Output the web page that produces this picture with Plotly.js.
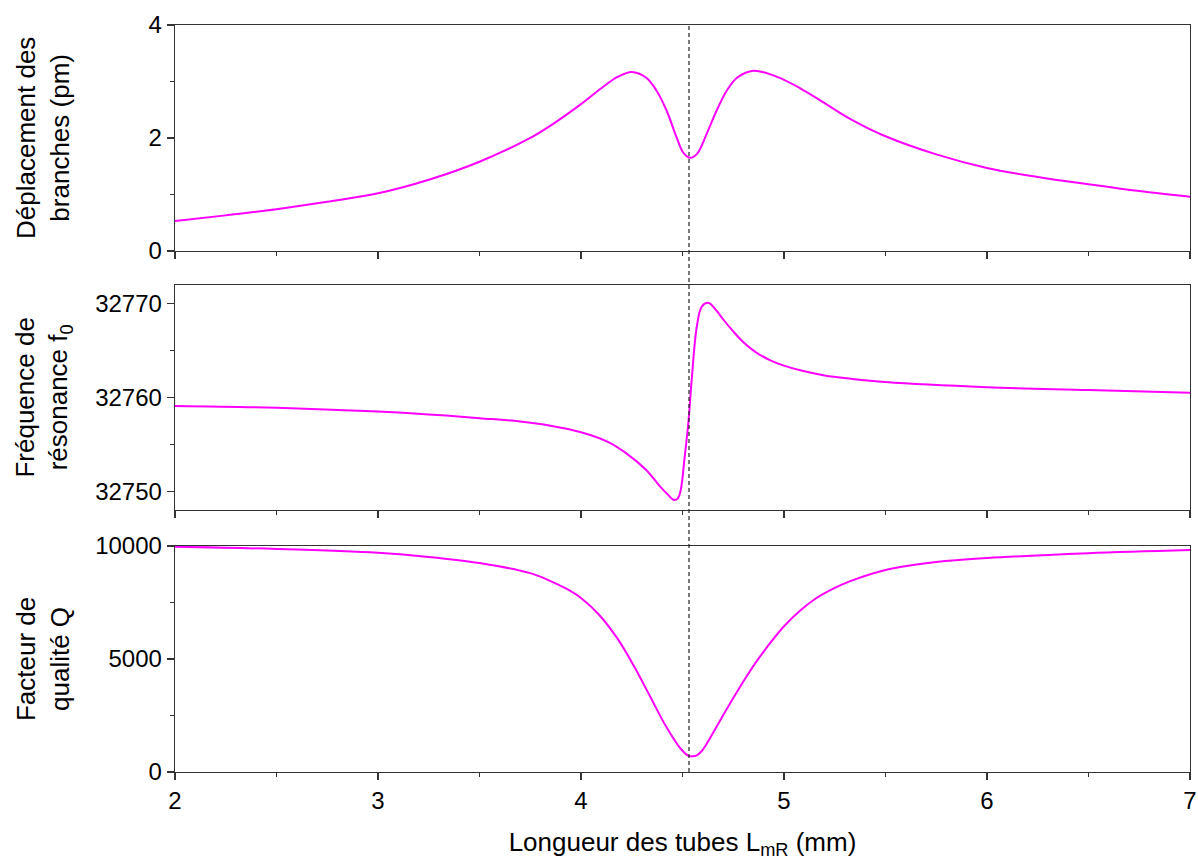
<!DOCTYPE html>
<html>
<head>
<meta charset="utf-8">
<script src="https://cdn.plot.ly/plotly-3.0.1.min.js"></script>
<style>html,body{margin:0;padding:0;background:#fff;}</style>
</head>
<body>
<div id="chart" style="width:1198px;height:860px;"></div>
<script>
// Top panel: déplacement des branches (pm)
const xDisp = [2.0,2.25,2.5,2.75,3.0,3.25,3.5,3.75,3.85,4.0,4.1,4.18,4.25,4.32,4.37,4.42,4.47,4.50,4.52,4.54,4.56,4.58,4.62,4.67,4.72,4.77,4.85,4.96,5.08,5.19,5.33,5.5,5.75,6.0,6.25,6.5,6.75,7.0];
const yDisp = [0.53,0.63,0.74,0.87,1.02,1.26,1.58,2.00,2.22,2.60,2.88,3.08,3.17,3.07,2.85,2.50,2.02,1.76,1.68,1.65,1.68,1.76,2.08,2.50,2.85,3.07,3.19,3.09,2.88,2.64,2.33,2.03,1.71,1.47,1.31,1.18,1.06,0.96];

// Middle panel: fréquence de résonance f0
const xFreq = [2.0,2.5,3.0,3.25,3.5,3.7,3.85,4.0,4.13,4.22,4.32,4.39,4.43,4.455,4.475,4.49,4.51,4.53,4.545,4.57,4.595,4.627,4.67,4.70,4.75,4.80,4.86,4.93,5.0,5.08,5.2,5.33,5.5,6.0,6.5,7.0];
const yFreq = [32759.1,32758.9,32758.5,32758.2,32757.8,32757.45,32757.0,32756.3,32755.3,32754.1,32752.3,32750.5,32749.6,32749.1,32749.2,32750.0,32753.5,32757.6,32761.8,32767.5,32769.7,32770.1,32769.2,32768.35,32767.05,32765.9,32764.85,32764.0,32763.4,32762.9,32762.35,32762.0,32761.65,32761.1,32760.8,32760.5];

// Bottom panel: facteur de qualité Q
const xQ = [2.0,2.5,3.0,3.25,3.5,3.75,3.85,3.93,4.0,4.09,4.18,4.26,4.34,4.42,4.49,4.53,4.55,4.57,4.595,4.62,4.66,4.70,4.74,4.78,4.82,4.87,4.94,5.0,5.08,5.16,5.25,5.33,5.5,5.75,6.0,6.5,7.0];
const yQ = [9970,9870,9700,9520,9250,8800,8450,8100,7700,6950,5900,4700,3350,2000,1040,710,700,740,930,1260,1880,2510,3120,3720,4290,4960,5800,6450,7150,7700,8150,8460,8940,9290,9470,9680,9820];

const xMarker = 4.532;
const xTicks = [2,3,4,5,6,7];

const lineStyle = {color:'#FF00FF', width:2, shape:'spline', smoothing:1.0};
const traces = [
  {x:xDisp, y:yDisp, xaxis:'x', yaxis:'y', mode:'lines', line:lineStyle, hoverinfo:'skip'},
  {x:xFreq, y:yFreq, xaxis:'x2', yaxis:'y2', mode:'lines', line:lineStyle, hoverinfo:'skip'},
  {x:xQ, y:yQ, xaxis:'x3', yaxis:'y3', mode:'lines', line:lineStyle, hoverinfo:'skip'}
];

const font = {family:'"Liberation Sans", Arial, sans-serif', size:24, color:'#000'};
const titleFont = {family:'"Liberation Sans", Arial, sans-serif', size:26, color:'#000'};
const axColor = '#333333';
function xax(anchor, showLabels){
  return {anchor:anchor, range:[2,7], tickvals:xTicks, showticklabels:showLabels,
    showline:true, mirror:true, linecolor:axColor, linewidth:1.3,
    ticks:'outside', ticklen:7, tickwidth:1.3, tickcolor:axColor,
    minor:{dtick:0.5, ticks:'outside', ticklen:4, tickwidth:1.3, tickcolor:axColor, showgrid:false},
    showgrid:false, zeroline:false, tickfont:font, fixedrange:true};
}
function yax(anchor, domain, range, dtick, minorDtick){
  return {anchor:anchor, domain:domain, range:range, dtick:dtick,
    showline:true, mirror:true, linecolor:axColor, linewidth:1.3,
    ticks:'outside', ticklen:7, tickwidth:1.3, tickcolor:axColor,
    minor:{dtick:minorDtick, ticks:'outside', ticklen:4, tickwidth:1.3, tickcolor:axColor, showgrid:false},
    showgrid:false, zeroline:false, tickfont:font, tickformat:'d', fixedrange:true};
}

const xa3 = xax('y3', true);
xa3.title = {text:'Longueur des tubes L<sub>mR</sub> (mm)', font:titleFont, standoff:20};

const layout = {
  width:1198, height:860,
  margin:{l:175, r:8, t:25, b:88},
  paper_bgcolor:'#fff', plot_bgcolor:'#fff',
  showlegend:false,
  font:font,
  xaxis: xax('y', false),
  xaxis2: xax('y2', false),
  xaxis3: xa3,
  yaxis: yax('x', [0.6975,1], [0,4], 2, 1),
  yaxis2: yax('x2', [0.3507,0.6519], [32748,32772], 10, 5),
  yaxis3: yax('x3', [0,0.3025], [0,10000], 5000, 2500),
  shapes:[{type:'line', xref:'x3', yref:'paper', x0:xMarker, x1:xMarker, y0:0, y1:1,
    line:{color:'#222', width:1.2, dash:'4px,3px'}}],
  annotations:[
    {xref:'paper', yref:'paper', x:-0.13, y:0.8488, text:'Déplacement des<br>branches (pm)', showarrow:false, textangle:-90, xanchor:'center', yanchor:'middle', font:titleFont},
    {xref:'paper', yref:'paper', x:-0.13, y:0.5013, text:'Fréquence de<br>résonance f<sub>0</sub>', showarrow:false, textangle:-90, xanchor:'center', yanchor:'middle', font:titleFont},
    {xref:'paper', yref:'paper', x:-0.13, y:0.1512, text:'Facteur de<br>qualité Q', showarrow:false, textangle:-90, xanchor:'center', yanchor:'middle', font:titleFont}
  ]
};

Plotly.newPlot('chart', traces, layout, {staticPlot:true, displayModeBar:false});
</script>
</body>
</html>
